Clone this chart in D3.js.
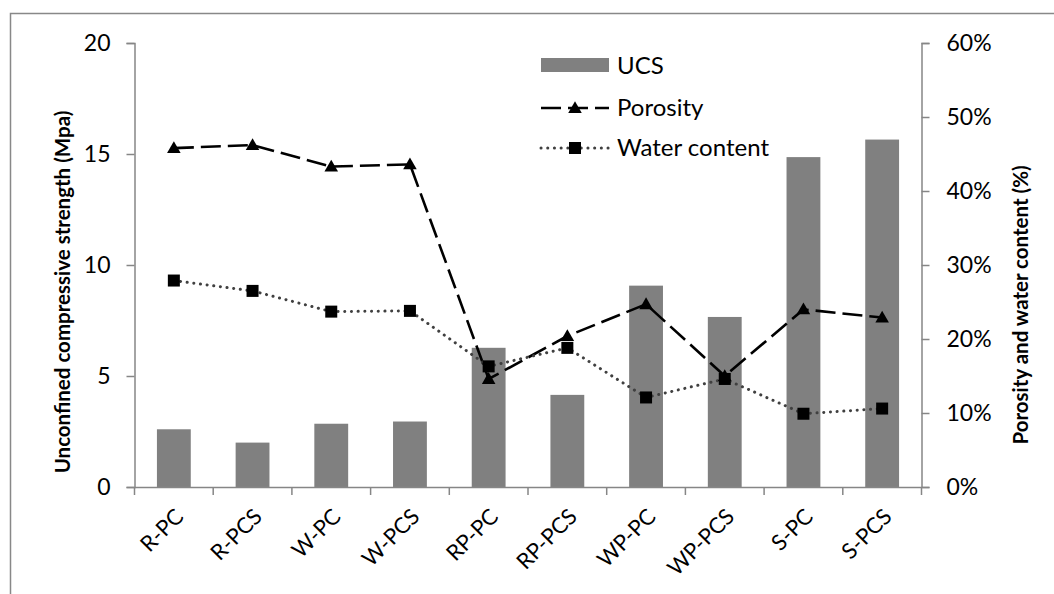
<!DOCTYPE html>
<html>
<head>
<meta charset="utf-8">
<script src="https://cdn.jsdelivr.net/npm/d3@7/dist/d3.min.js"></script>
<style>
  html, body { margin: 0; padding: 0; background: #fff; }
  svg { display: block; }
  text { font-family: Lato, "Open Sans", sans-serif; fill: #000; }
</style>
</head>
<body>
<svg id="chart" width="1054" height="594"></svg>
<script>
// Mixture labels
const categories = ["R-PC", "R-PCS", "W-PC", "W-PCS", "RP-PC", "RP-PCS", "WP-PC", "WP-PCS", "S-PC", "S-PCS"];
// Unconfined compressive strength (MPa)
const ucs = [2.6, 2.0, 2.85, 2.95, 6.27, 4.15, 9.07, 7.66, 14.86, 15.65];
// Porosity (%)
const porosity = [45.8, 46.2, 43.3, 43.6, 14.6, 20.4, 24.7, 15.0, 24.0, 22.9];
// Water content (%)
const waterContent = [27.9, 26.5, 23.7, 23.8, 16.3, 18.8, 12.1, 14.6, 9.9, 10.6];
// Axis ticks
const leftTicks = [0, 5, 10, 15, 20];
const rightTicks = [0, 10, 20, 30, 40, 50, 60];

const svg = d3.select("#chart");
const axisColor = "#868686";

// outer frame
svg.append("rect")
  .attr("x", 10.5).attr("y", 13.5)
  .attr("width", 1100).attr("height", 700)
  .attr("fill", "none").attr("stroke", "#888").attr("stroke-width", 1.5);

const plot = { left: 134.5, right: 921.5, top: 43, bottom: 487 };

const x = d3.scaleBand().domain(categories).range([plot.left, plot.right]).paddingInner(0).paddingOuter(0);
const yL = d3.scaleLinear().domain([0, 20]).range([plot.bottom, plot.top]);
const yR = d3.scaleLinear().domain([0, 60]).range([plot.bottom, plot.top]);

const barW = x.bandwidth() * 0.43;

// UCS bars
svg.append("g").selectAll("rect").data(categories).join("rect")
  .attr("x", (d) => x(d) + x.bandwidth() / 2 - barW / 2)
  .attr("y", (d, i) => yL(ucs[i]))
  .attr("width", barW)
  .attr("height", (d, i) => plot.bottom - yL(ucs[i]))
  .attr("fill", "#808080");

// left axis
const gL = svg.append("g").attr("transform", `translate(${plot.left},0)`)
  .call(d3.axisLeft(yL).tickValues(leftTicks).tickSize(8).tickPadding(16));
// right axis
const gR = svg.append("g").attr("transform", `translate(${plot.right},0)`)
  .call(d3.axisRight(yR).tickValues(rightTicks).tickSize(8).tickPadding(17).tickFormat((d) => d + "%"));
// bottom axis with ticks at category boundaries
const gB = svg.append("g").attr("transform", `translate(0,${plot.bottom})`)
  .call(d3.axisBottom(x).tickSize(0).tickFormat(""));
gB.selectAll(".bnd").data(d3.range(categories.length + 1)).join("line")
  .attr("class", "bnd")
  .attr("x1", (i) => plot.left + i * x.bandwidth())
  .attr("x2", (i) => plot.left + i * x.bandwidth())
  .attr("y1", 0).attr("y2", 8)
  .attr("stroke", axisColor).attr("stroke-width", 1.5);

[gL, gR, gB].forEach((g) => {
  g.select(".domain").attr("stroke", axisColor).attr("stroke-width", 1.5);
  g.selectAll(".tick line").attr("stroke", axisColor).attr("stroke-width", 1.5);
  g.selectAll(".tick text").attr("font-size", 23).attr("font-family", "Lato, sans-serif").attr("fill", "#000");
});

// rotated category labels
svg.append("g").selectAll("text").data(categories).join("text")
  .attr("transform", (d) => `translate(${x(d) + x.bandwidth() / 2 + 11},${plot.bottom + 31}) rotate(-45)`)
  .attr("text-anchor", "end")
  .attr("font-size", 22)
  .text((d) => d);

// axis titles
svg.append("text")
  .attr("transform", `translate(70,292) rotate(-90)`)
  .attr("text-anchor", "middle")
  .attr("font-size", 20.5).attr("font-weight", "bold")
  .text("Unconfined compressive strength (Mpa)");
svg.append("text")
  .attr("transform", `translate(1028,305) rotate(-90)`)
  .attr("text-anchor", "middle")
  .attr("font-size", 20.5).attr("font-weight", "bold")
  .text("Porosity and water content (%)");

const cx = (i) => x(categories[i]) + x.bandwidth() / 2;

// porosity line
svg.append("path")
  .datum(porosity)
  .attr("d", d3.line().x((d, i) => cx(i)).y((d) => yR(d)))
  .attr("fill", "none").attr("stroke", "#000").attr("stroke-width", 2.6)
  .attr("stroke-dasharray", "20 7");

// water content line
svg.append("path")
  .datum(waterContent)
  .attr("d", d3.line().x((d, i) => cx(i)).y((d) => yR(d)))
  .attr("fill", "none").attr("stroke", "#404040").attr("stroke-width", 3)
  .attr("stroke-linecap", "round").attr("stroke-dasharray", "0.1 6.6");

const tri = d3.symbol().type(d3.symbolTriangle).size(80);
svg.append("g").selectAll("path").data(porosity).join("path")
  .attr("transform", (d, i) => `translate(${cx(i)},${yR(d) + 1})`)
  .attr("d", tri).attr("fill", "#000");

svg.append("g").selectAll("rect").data(waterContent).join("rect")
  .attr("x", (d, i) => cx(i) - 6).attr("y", (d) => yR(d) - 6)
  .attr("width", 12).attr("height", 12).attr("fill", "#000");

// legend
const legend = svg.append("g");
const lx0 = 541, lx1 = 609, lmid = 575, ltx = 617;
legend.append("rect").attr("x", lx0).attr("y", 58).attr("width", lx1 - lx0).attr("height", 14).attr("fill", "#808080");
legend.append("text").attr("x", ltx).attr("y", 74).attr("font-size", 24).text("UCS");

legend.append("line").attr("x1", lx0).attr("x2", lx1).attr("y1", 108).attr("y2", 108)
  .attr("stroke", "#000").attr("stroke-width", 2.6).attr("stroke-dasharray", "20 7");
legend.append("path").attr("transform", `translate(${lmid},109)`).attr("d", tri).attr("fill", "#000");
legend.append("text").attr("x", ltx).attr("y", 116).attr("font-size", 24).text("Porosity");

legend.append("line").attr("x1", lx0).attr("x2", lx1).attr("y1", 148).attr("y2", 148)
  .attr("stroke", "#404040").attr("stroke-width", 3).attr("stroke-linecap", "round").attr("stroke-dasharray", "0.1 6.6");
legend.append("rect").attr("x", lmid - 6).attr("y", 142).attr("width", 12).attr("height", 12).attr("fill", "#000");
legend.append("text").attr("x", ltx).attr("y", 156).attr("font-size", 24).text("Water content");
</script>
</body>
</html>
